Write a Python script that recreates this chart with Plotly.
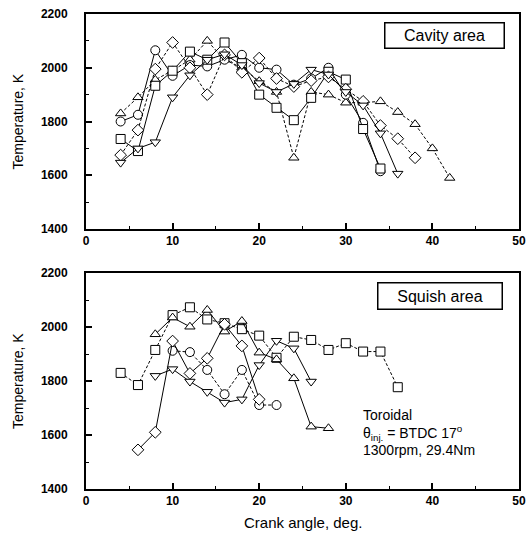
import plotly.graph_objects as go

W, H = 528, 534

# ---------------- data: top panel (Cavity area) ----------------
cav_tri_x = [4, 6, 8, 10, 12, 14, 16, 18, 20, 22, 24, 26, 28, 30, 32, 34, 36, 38, 40, 42]
cav_tri_y = [1830, 1890, 1955, 1990, 2030, 2100, 2030, 2000, 1950, 1910, 1665, 1910, 1900, 1870, 1870, 1875, 1835, 1790, 1700, 1590]
cav_cir_x = [4, 6, 8, 10, 12, 14, 16, 18, 20, 22, 24, 26, 28, 30, 32, 34]
cav_cir_y = [1800, 1825, 2065, 1970, 2010, 2005, 2030, 2048, 2000, 1993, 1937, 1960, 2000, 1900, 1795, 1615]
cav_sq_x = [4, 6, 8, 10, 12, 14, 16, 18, 20, 22, 24, 26, 28, 30, 32, 34]
cav_sq_y = [1735, 1690, 1933, 1989, 2060, 2030, 2094, 2017, 1900, 1851, 1805, 1888, 1985, 1956, 1772, 1625]
cav_dia_x = [4, 6, 8, 10, 12, 14, 16, 18, 20, 22, 24, 26, 28, 30, 32, 34, 36, 38]
cav_dia_y = [1675, 1768, 1995, 2094, 2000, 1900, 2048, 1983, 2036, 1960, 1930, 1952, 1966, 1920, 1875, 1785, 1736, 1665]
cav_dn_x = [4, 6, 8, 10, 12, 14, 16, 18, 20, 22, 24, 26, 28, 30, 32, 34, 36]
cav_dn_y = [1647, 1700, 1723, 1890, 1972, 2030, 2050, 2010, 1943, 1910, 1940, 1993, 1975, 1910, 1860, 1756, 1606]

# ---------------- data: bottom panel (Squish area) ----------------
sq_sq_x = [4, 6, 8, 10, 12, 14, 16, 18, 20, 22, 24, 26, 28, 30, 32, 34, 36]
sq_sq_y = [1830, 1785, 1915, 2044, 2073, 2028, 2014, 1992, 1968, 1886, 1964, 1952, 1915, 1940, 1909, 1909, 1777]
sq_tri_x = [8, 10, 12, 14, 16, 18, 20, 22, 24, 26, 28]
sq_tri_y = [1973, 2035, 2001, 2063, 1983, 2022, 1905, 1880, 1810, 1631, 1625]
sq_cir_x = [10, 12, 14, 16, 18, 20, 22]
sq_cir_y = [1912, 1907, 1841, 1751, 1841, 1711, 1711]
sq_dia_x = [6, 8, 10, 12, 14, 16, 18, 20]
sq_dia_y = [1545, 1610, 1948, 1828, 1884, 2010, 1930, 1732]
sq_dn_x = [8, 10, 12, 14, 16, 18, 20, 22, 24, 26]
sq_dn_y = [1819, 1844, 1798, 1760, 1720, 1732, 1859, 1949, 1921, 1798]

x_range = [0, 50]
y_range = [1400, 2200]

fig = go.Figure()


def add(x, y, symbol, dash, xa, ya):
    fig.add_trace(go.Scatter(
        x=x, y=y, mode="lines+markers", xaxis=xa, yaxis=ya,
        line=dict(color="black", width=1, dash=dash),
        marker=dict(symbol=symbol, size=9, color="white",
                    line=dict(color="black", width=1)),
        showlegend=False))


add(cav_tri_x, cav_tri_y, "triangle-up", "3px,2px", "x", "y")
add(cav_cir_x, cav_cir_y, "circle", "solid", "x", "y")
add(cav_sq_x, cav_sq_y, "square", "solid", "x", "y")
add(cav_dia_x, cav_dia_y, "diamond", "3px,2px", "x", "y")
add(cav_dn_x, cav_dn_y, "triangle-down", "solid", "x", "y")

add(sq_sq_x, sq_sq_y, "square", "3px,2px", "x2", "y2")
add(sq_tri_x, sq_tri_y, "triangle-up", "solid", "x2", "y2")
add(sq_cir_x, sq_cir_y, "circle", "3px,2px", "x2", "y2")
add(sq_dia_x, sq_dia_y, "diamond", "solid", "x2", "y2")
add(sq_dn_x, sq_dn_y, "triangle-down", "solid", "x2", "y2")

tickfont = dict(family="Liberation Sans, Arial", size=12, color="black", weight="bold")


def xax(domain, anchor):
    return dict(domain=domain, anchor=anchor, range=x_range, dtick=10, tick0=0,
                showline=True, mirror=True, linecolor="black", linewidth=2,
                ticks="inside", ticklen=6, tickwidth=2, tickcolor="black",
                minor=dict(ticks="inside", ticklen=3, dtick=5, tickcolor="black", tickwidth=1),
                showgrid=False, zeroline=False, tickfont=tickfont, automargin=False,
                ticklabelstandoff=0)


def yax(domain, anchor):
    return dict(domain=domain, anchor=anchor, range=y_range, dtick=200, tick0=1400,
                showline=True, mirror=True, linecolor="black", linewidth=2,
                ticks="inside", ticklen=6, tickwidth=2, tickcolor="black",
                minor=dict(ticks="inside", ticklen=3, dtick=100, tickcolor="black", tickwidth=1),
                showgrid=False, zeroline=False, tickfont=tickfont, ticklabelstandoff=14,
                automargin=False)


xd = [86 / W, 519 / W]
fig.update_layout(
    width=W, height=H, margin=dict(l=0, r=0, t=0, b=0, pad=0),
    paper_bgcolor="white", plot_bgcolor="white",
    xaxis=xax(xd, "y"), yaxis=yax([1 - 229 / H, 1 - 14 / H], "x"),
    xaxis2=xax(xd, "y2"), yaxis2=yax([1 - 489 / H, 1 - 273 / H], "x2"),
)

font = dict(family="Liberation Sans, Arial", size=16, color="black")
ann = []
ann.append(dict(text="Cavity area", x=444 / W, y=1 - 35 / H, xref="paper", yref="paper",
                xanchor="center", yanchor="middle",
                showarrow=False, font=font, bordercolor="black", borderwidth=1.5,
                borderpad=2, width=114, height=20, bgcolor="white"))
ann.append(dict(text="Squish area", x=439.5 / W, y=1 - 295.5 / H, xref="paper", yref="paper",
                xanchor="center", yanchor="middle",
                showarrow=False, font=font, bordercolor="black", borderwidth=1.5,
                borderpad=2, width=119, height=21, bgcolor="white"))
f14 = dict(family="Liberation Sans, Arial", size=14, color="black")
for txt, yy in [("Toroidal", 415), ("θ<sub>inj.</sub> = BTDC 17<sup>o</sup>", 433),
                ("1300rpm, 29.4Nm", 450)]:
    ann.append(dict(text=txt, x=361 / W, y=1 - yy / H, xref="paper", yref="paper",
                    xanchor="left", yanchor="middle", showarrow=False, font=f14))
ytfont = dict(family="Liberation Sans Narrow, Arial Narrow, Liberation Sans", size=14, color="black")
for yc in [121.5, 381]:
    ann.append(dict(text="Temperature, K", x=18 / W, y=1 - yc / H, xref="paper", yref="paper",
                    xanchor="center", yanchor="middle",
                    textangle=-90, showarrow=False, font=ytfont))
ann.append(dict(text="Crank angle, deg.", x=303 / W, y=1 - 522 / H, xref="paper", yref="paper",
                xanchor="center", yanchor="middle",
                showarrow=False, font=dict(family="Liberation Sans, Arial", size=15, color="black")))
fig.update_layout(annotations=ann)

fig.write_html("out.html")
